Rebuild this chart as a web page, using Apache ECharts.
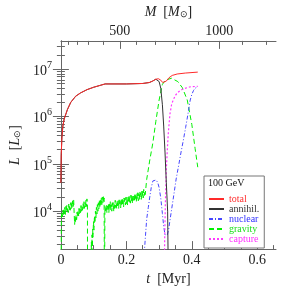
<!DOCTYPE html>
<html><head><meta charset="utf-8">
<script src="https://cdn.jsdelivr.net/npm/echarts@6/dist/echarts.min.js"></script>
<style>html,body{margin:0;padding:0;background:#fff}#c{width:291px;height:291px}</style>
</head><body><div id="c"></div>
<script>
// ---- axis ranges and ticks ----
const X_MIN = 0, X_MAX = 0.657;
const Y_MIN = 1.58e3, Y_MAX = 3.98e7;
const xMajorTicks = [0, 0.2, 0.4, 0.6];
const xMinorTicks = [0.05, 0.1, 0.15, 0.25, 0.3, 0.35, 0.45, 0.5, 0.55, 0.65];
const yMajorTicks = [1e4, 1e5, 1e6, 1e7];
const yMinorTicks = [2e3,3e3,4e3,5e3,6e3,7e3,8e3,9e3,
  2e4,3e4,4e4,5e4,6e4,7e4,8e4,9e4,
  2e5,3e5,4e5,5e5,6e5,7e5,8e5,9e5,
  2e6,3e6,4e6,5e6,6e6,7e6,8e6,9e6,
  2e7,3e7];
// top axis: stellar mass M [Msun] ticks and the times t [Myr] at which they are reached
const massTickValues = [100, 200, 300, 400, 500, 600, 700, 800, 900, 1000, 1100, 1200];
const massTickTimes  = [0.023, 0.049, 0.085, 0.128, 0.180, 0.231, 0.288, 0.350, 0.418, 0.484, 0.553, 0.627];
const massLabelValues = [500, 1000];

// ---- series (t in Myr, log10 L/Lsun) ----
const totalT    = [0, 0.001, 0.003, 0.006, 0.01, 0.02, 0.03, 0.045, 0.06, 0.08, 0.1, 0.12, 0.135, 0.2, 0.25, 0.27, 0.28, 0.29, 0.298, 0.305, 0.311, 0.316, 0.322, 0.33, 0.34, 0.355, 0.38, 0.418];
const totalLogL = [4.6, 5.2, 5.55, 5.8, 5.95, 6.15, 6.3, 6.43, 6.5, 6.57, 6.62, 6.66, 6.69, 6.69, 6.7, 6.72, 6.75, 6.79, 6.8, 6.77, 6.72, 6.71, 6.75, 6.82, 6.87, 6.9, 6.92, 6.94];

const annihilT    = [0, 0.001, 0.003, 0.006, 0.01, 0.02, 0.03, 0.045, 0.06, 0.08, 0.1, 0.12, 0.135, 0.2, 0.25, 0.27, 0.28, 0.29, 0.296, 0.3, 0.305, 0.31, 0.314, 0.318, 0.322, 0.326, 0.329];
const annihilLogL = [4.6, 5.2, 5.55, 5.8, 5.95, 6.15, 6.3, 6.43, 6.5, 6.57, 6.62, 6.66, 6.69, 6.69, 6.7, 6.72, 6.75, 6.79, 6.78, 6.74, 6.6, 6.25, 5.8, 5.25, 4.6, 4.0, 2.0];

const nuclearT    = [0.2545, 0.258, 0.262, 0.267, 0.271, 0.276, 0.281, 0.286, 0.291, 0.296, 0.3, 0.305, 0.31, 0.314, 0.318, 0.322, 0.325, 0.329, 0.333, 0.338, 0.345, 0.352, 0.36, 0.367, 0.374, 0.381, 0.388, 0.395, 0.4, 0.405, 0.41, 0.418];
const nuclearLogL = [3.1, 3.45, 3.83, 4.08, 4.28, 4.5, 4.64, 4.67, 4.66, 4.6, 4.5, 4.28, 3.95, 3.68, 3.5, 3.46, 3.5, 3.61, 3.8, 4.03, 4.35, 4.68, 4.98, 5.25, 5.5, 5.77, 6.05, 6.35, 6.47, 6.55, 6.6, 6.63];

const gravityT = [0, 0.0015,
  0.003,0.0045,0.006,0.0075,0.009,0.0105,0.012,0.0135,0.015,0.0165,0.018,0.0195,0.021,0.0225,0.024,0.0255,0.027,0.0285,0.03,0.0315,0.033,0.0345,0.036,0.0375,0.039,
  0.0405, 0.042,
  0.0435,0.045,0.0465,0.048,0.0495,0.051,0.0525,0.054,0.0555,0.057,0.0585,0.06,0.0615,0.063,0.0645,0.066,0.0675,0.069,0.0705,0.072,0.0735,0.075,0.0765,0.078,0.0795,0.081,
  0.0815, 0.091,
  0.092,0.093,0.094,0.095,0.096,0.097,0.098,0.0995,0.101,0.1025,0.104,0.1055,0.107,0.1085,0.11,0.1115,0.113,0.1145,0.116,0.1175,0.119,0.1205,0.122,0.1235,0.125,0.1265,0.128,0.1295,0.131,0.132,
  0.133, 0.1345,
  0.136,0.1375,0.139,0.1405,0.142,0.1435,0.145,0.1465,0.148,0.1495,0.151,0.1525,0.154,
  0.1555,0.157,0.1585,0.16,0.1615,0.163,0.1645,0.166,0.1675,0.169,0.1705,0.172,0.1735,0.175,
  0.1765,0.178,0.1795,0.181,0.1825,0.184,0.1855,0.187,0.1885,0.19,0.1915,0.193,0.1945,0.196,
  0.1975,0.199,0.2005,0.202,0.2035,0.205,0.2065,0.208,0.2095,0.211,0.2125,0.214,0.2155,0.217,
  0.2185,0.22,0.2215,0.223,0.2245,0.226,0.2275,0.229,0.2305,0.232,0.2335,0.235,0.2365,0.238,
  0.2395,0.241,0.2425,0.244,0.2455,0.247,0.2485,0.25,0.2515,0.253,0.2545,0.256,0.2575,
  0.262, 0.271, 0.281, 0.29, 0.3, 0.31, 0.319, 0.338, 0.357, 0.371, 0.386, 0.4, 0.41, 0.418];
const gravityLogL = [2.0, 3.85,
  3.98,3.88,4.02,3.9,4.06,3.95,4.08,3.93,4.1,3.99,4.12,4.0,4.08,3.97,4.15,4.03,4.12,4.02,4.18,4.05,4.2,4.08,4.22,4.1,4.24,
  3.95, 3.72,
  3.88,3.76,3.92,3.82,3.98,3.87,4.02,3.9,4.06,3.95,4.08,3.97,4.12,4.0,4.1,4.02,4.16,4.05,4.2,4.06,4.18,4.08,4.23,4.1,4.26,4.15,
  2.0, 2.0,
  2.5,3.35,2.9,3.5,3.15,3.62,3.45,3.78,3.6,3.9,3.75,4.0,3.86,4.08,3.94,4.14,4.0,4.18,4.05,4.22,4.08,4.25,4.12,4.28,4.14,4.3,4.18,4.32,4.2,4.28,
  2.0, 4.1,
  4.10,3.98,4.13,3.97,4.11,4.02,4.17,3.97,4.15,4.05,4.20,4.02,4.14,
  4.00,4.18,4.07,4.18,3.99,4.17,4.06,4.23,4.08,4.18,4.05,4.23,4.11,4.22,
  4.06,4.24,4.13,4.21,4.07,4.24,4.11,4.28,4.14,4.23,4.09,4.28,4.17,4.27,
  4.13,4.30,4.16,4.27,4.13,4.30,4.21,4.34,4.17,4.29,4.17,4.34,4.22,4.33,
  4.16,4.35,4.23,4.32,4.20,4.38,4.23,4.33,4.21,4.37,4.26,4.39,4.22,4.37,
  4.25,4.41,4.29,4.39,4.25,4.42,4.30,4.42,4.28,4.46,4.33,4.42,4.35,
  4.67, 5.06, 5.45, 5.9, 6.35, 6.68, 6.77, 6.81, 6.74, 6.61, 6.35, 5.83, 5.32, 4.93];

const captureT    = [0.3155, 0.317, 0.319, 0.322, 0.325, 0.328, 0.333, 0.338, 0.343, 0.35, 0.357, 0.366, 0.376, 0.395, 0.418];
const captureLogL = [2.5, 3.4, 4.15, 4.87, 5.3, 5.65, 6.05, 6.25, 6.35, 6.45, 6.51, 6.56, 6.59, 6.63, 6.64];

// ---- styling ----
const FONT = '"Liberation Serif", "Times New Roman", serif';
const AX = '#666';
const C = { total: '#ff2a2a', annihil: '#333333', nuclear: '#4646ff', gravity: '#00f000', capture: '#ff38ff' };
const TXT = { total: '#ff3030', annihil: '#333333', nuclear: '#3030ff', gravity: '#20e020', capture: '#ff30ff' };

function pts(ts, ls) { return ts.map((t, i) => [t, Math.pow(10, ls[i])]); }
function massLabel(v) {
  const i = massTickTimes.findIndex(t => Math.abs(t - v) < 1e-6);
  return i >= 0 ? String(massTickValues[i]) : '';
}
const massMajorTimes = massLabelValues.map(m => massTickTimes[massTickValues.indexOf(m)]);
const massMinorTimes = massTickTimes.filter((t, i) => massLabelValues.indexOf(massTickValues[i]) < 0);

const lineAx = { show: true, lineStyle: { color: AX, width: 1 } };
const noLine = { show: false };
const noLab = { show: false };

const chart = echarts.init(document.getElementById('c'), null, { renderer: 'canvas' });
chart.setOption({
  animation: false,
  backgroundColor: '#fff',
  grid: { left: 45, right: 15, top: 29, bottom: 35, containLabel: false },
  xAxis: [
    { type: 'value', position: 'bottom', min: X_MIN, max: X_MAX, gridIndex: 0,
      axisLine: lineAx, splitLine: { show: false },
      axisTick: { show: true, inside: true, length: 8, customValues: xMajorTicks, lineStyle: { color: AX } },
      axisLabel: { customValues: xMajorTicks, margin: 4, color: '#222', fontFamily: FONT, fontSize: 14,
        formatter: v => (v === 0 ? '0' : String(+v.toFixed(1))) },
      name: '{i|t}  [Myr]', nameLocation: 'middle', nameGap: 13,
      nameTextStyle: { fontFamily: FONT, fontSize: 14, color: '#222',
        rich: { i: { fontFamily: FONT, fontSize: 14, fontStyle: 'italic', color: '#222' } } } },
    { type: 'value', position: 'bottom', min: X_MIN, max: X_MAX, gridIndex: 0,
      axisLine: noLine, splitLine: { show: false }, axisLabel: noLab,
      axisTick: { show: true, inside: true, length: 4, customValues: xMinorTicks, lineStyle: { color: AX } } },
    { type: 'value', position: 'top', min: X_MIN, max: X_MAX, gridIndex: 0,
      axisLine: lineAx, splitLine: { show: false },
      axisTick: { show: true, inside: true, length: 8, customValues: massMajorTimes, lineStyle: { color: AX } },
      axisLabel: { customValues: massMajorTimes, margin: 3, color: '#222', fontFamily: FONT, fontSize: 14, formatter: massLabel },
      name: '{i|M}  [{i|M}{s|⊙}]', nameLocation: 'middle', nameGap: 11,
      nameTextStyle: { fontFamily: FONT, fontSize: 14, color: '#222',
        rich: { i: { fontFamily: FONT, fontSize: 14, fontStyle: 'italic', color: '#222' },
                s: { fontFamily: FONT, fontSize: 9, color: '#222', verticalAlign: 'bottom', lineHeight: 14 } } } },
    { type: 'value', position: 'top', min: X_MIN, max: X_MAX, gridIndex: 0,
      axisLine: noLine, splitLine: { show: false }, axisLabel: noLab,
      axisTick: { show: true, inside: true, length: 4, customValues: massMinorTimes, lineStyle: { color: AX } } }
  ],
  yAxis: [
    { type: 'log', logBase: 10, position: 'left', min: Y_MIN, max: Y_MAX,
      axisLine: lineAx, splitLine: { show: false },
      axisTick: { show: true, inside: true, length: 8, customValues: yMajorTicks, lineStyle: { color: AX } },
      axisLabel: { customValues: yMajorTicks, margin: 9, color: '#222', fontFamily: FONT,
        formatter: v => '{b|10}{s|' + Math.round(Math.log10(v)) + '}',
        rich: { b: { fontFamily: FONT, fontSize: 14, color: '#222', lineHeight: 18, verticalAlign: 'bottom' },
                s: { fontFamily: FONT, fontSize: 10, color: '#222', lineHeight: 18, verticalAlign: 'top' } } },
      name: '{i|L}  [{i|L}{s|⊙}]', nameLocation: 'middle', nameGap: 29, nameRotate: 90,
      nameTextStyle: { fontFamily: FONT, fontSize: 14, color: '#222',
        rich: { i: { fontFamily: FONT, fontSize: 14, fontStyle: 'italic', color: '#222' },
                s: { fontFamily: FONT, fontSize: 9, color: '#222', verticalAlign: 'bottom', lineHeight: 14 } } } },
    { type: 'log', logBase: 10, position: 'left', min: Y_MIN, max: Y_MAX,
      axisLine: noLine, splitLine: { show: false }, axisLabel: noLab,
      axisTick: { show: true, inside: true, length: 4, customValues: yMinorTicks, lineStyle: { color: AX } } },
    { type: 'log', logBase: 10, position: 'right', min: Y_MIN, max: Y_MAX,
      axisLine: lineAx, splitLine: { show: false }, axisLabel: noLab,
      axisTick: { show: true, inside: true, length: 8, customValues: yMajorTicks, lineStyle: { color: AX } } },
    { type: 'log', logBase: 10, position: 'right', min: Y_MIN, max: Y_MAX,
      axisLine: noLine, splitLine: { show: false }, axisLabel: noLab,
      axisTick: { show: true, inside: true, length: 4, customValues: yMinorTicks, lineStyle: { color: AX } } }
  ],
  legend: {
    orient: 'vertical', left: 204, top: 176, padding: [18, 5, 4, 4],
    itemWidth: 15, itemHeight: 10, itemGap: 0,
    borderColor: '#777', borderWidth: 1, borderRadius: 0, backgroundColor: '#fff',
    itemStyle: { opacity: 0 },
    textStyle: { fontFamily: FONT, fontSize: 10, lineHeight: 10 },
    data: [
      { name: 'total', textStyle: { color: TXT.total } },
      { name: 'annihil.', textStyle: { color: TXT.annihil } },
      { name: 'nuclear', textStyle: { color: TXT.nuclear } },
      { name: 'gravity', textStyle: { color: TXT.gravity } },
      { name: 'capture', textStyle: { color: TXT.capture } }
    ]
  },
  graphic: [
    { type: 'text', left: 208, top: 178, z: 100,
      style: { text: '100 GeV', font: '10px "Liberation Serif"', fill: '#111' } }
  ],
  series: [
    { name: 'gravity', type: 'line', xAxisIndex: 0, yAxisIndex: 0, showSymbol: false, symbol: 'none',
      data: pts(gravityT, gravityLogL), lineStyle: { color: C.gravity, width: 1, type: [5, 3] }, itemStyle: { color: C.gravity } },
    { name: 'nuclear', type: 'line', xAxisIndex: 0, yAxisIndex: 0, showSymbol: false, symbol: 'none',
      data: pts(nuclearT, nuclearLogL), lineStyle: { color: C.nuclear, width: 1, type: [4, 2, 1, 2] }, itemStyle: { color: C.nuclear } },
    { name: 'capture', type: 'line', xAxisIndex: 0, yAxisIndex: 0, showSymbol: false, symbol: 'none',
      data: pts(captureT, captureLogL), lineStyle: { color: C.capture, width: 1.2, type: [2, 2] }, itemStyle: { color: C.capture } },
    { name: 'annihil.', type: 'line', xAxisIndex: 0, yAxisIndex: 0, showSymbol: false, symbol: 'none',
      data: pts(annihilT, annihilLogL), lineStyle: { color: C.annihil, width: 1 }, itemStyle: { color: C.annihil } },
    { name: 'total', type: 'line', xAxisIndex: 0, yAxisIndex: 0, showSymbol: false, symbol: 'none',
      data: pts(totalT, totalLogL), lineStyle: { color: C.total, width: 1 }, itemStyle: { color: C.total } }
  ]
});
</script></body></html>
